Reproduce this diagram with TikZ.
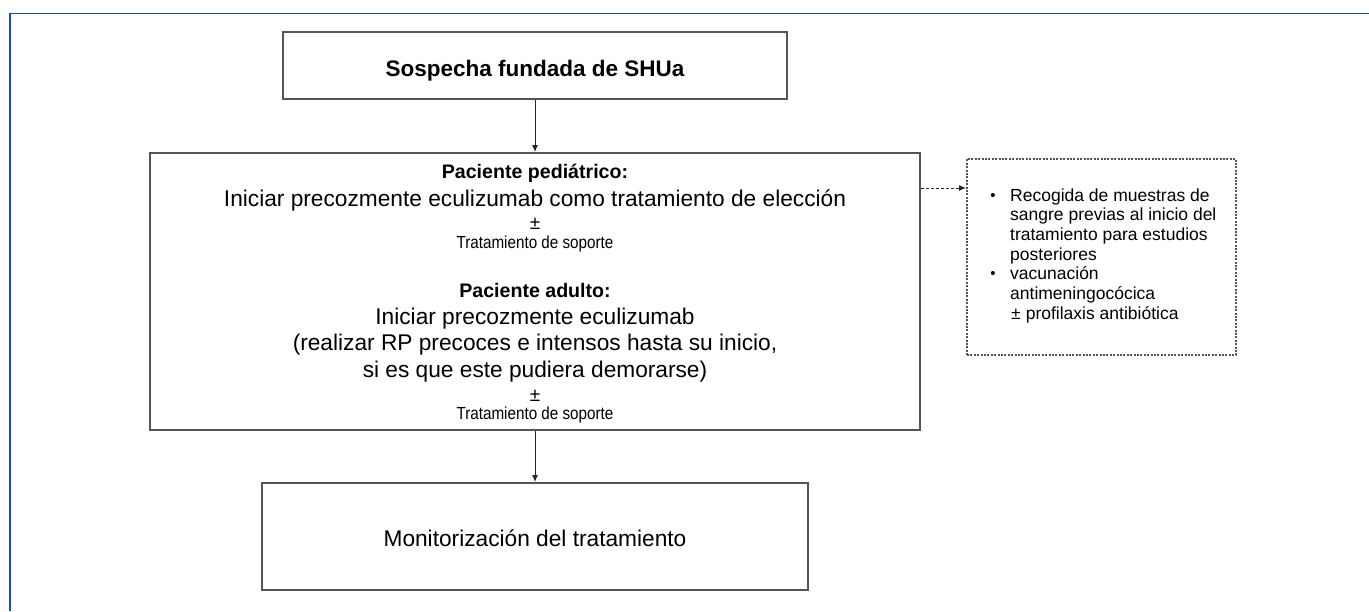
\documentclass[tikz,border=0pt]{standalone}
\usepackage{fontspec}
\setmainfont{Liberation Sans}
\usetikzlibrary{arrows.meta}
\definecolor{boxgray}{HTML}{555555}
\definecolor{framebl}{HTML}{1F4F9F}
\begin{document}
\begin{tikzpicture}[x=1pt,y=-1pt,
  box/.style={draw=boxgray, line width=2pt, inner sep=0pt, fill=white},
  dotbox/.style={draw=boxgray, line width=2pt, dash pattern=on 2pt off 1.4pt, inner sep=0pt},
  arr/.style={draw=black!85, line width=1pt, -{Latex[length=7pt,width=6pt]}},
  darr/.style={draw=black!85, line width=1pt, dash pattern=on 3pt off 2pt, -{Latex[length=7pt,width=6pt]}},
  body/.style={inner sep=0pt, anchor=base, font=\fontsize{22.7}{26}\selectfont},
  head/.style={inner sep=0pt, anchor=base, font=\fontsize{19.6}{24}\selectfont\bfseries},
  pm/.style={inner sep=0pt, anchor=base, font=\fontsize{19}{20}\selectfont},
  small/.style={inner sep=0pt, anchor=base, font=\fontsize{15}{18}\selectfont},
  side/.style={inner sep=0pt, anchor=base west, font=\fontsize{17.5}{19.7}\selectfont},
  bul/.style={inner sep=0pt, anchor=base, font=\fontsize{15}{16}\selectfont},
]
\useasboundingbox (0,0) rectangle (1369,611);
\fill[white] (0,0) rectangle (1369,611);
% frame
\draw[framebl, line width=1.6pt] (10,611) -- (10,13.5) -- (1369,13.5);

% boxes
\node[box, minimum width=504pt, minimum height=67pt] (top) at (535,65.5) {};
\node[box, minimum width=770pt, minimum height=277pt] (mid) at (535,291.5) {};
\node[box, minimum width=546pt, minimum height=107pt] (bot) at (535,536.5) {};
\node[dotbox, minimum width=269pt, minimum height=196pt] (dot) at (1101.5,257) {};

% connectors
\draw[arr] (top.south) -- (mid.north);
\draw[arr] (mid.south) -- (bot.north);
\draw[darr] ([yshift=103.5pt]mid.east) -- ([yshift=103.5pt]mid.east -| dot.west);

% top text
\node[body, font=\fontsize{22.5}{26}\selectfont\bfseries] (t1) at (535,76) {Sospecha fundada de SHUa};

% middle text
\node[head] (m1) at (535,178.7) {Paciente pediátrico:};
\node[body] (m2) at (535,206) {Iniciar precozmente eculizumab como tratamiento de elección};
\node[pm] (m3) at (535,229) {±};
\node[small] (m4) at (535,248.5) {\scalebox{0.87}[1]{\fontsize{17.5}{20}\selectfont Tratamiento de soporte}};
\node[head] (m5) at (535,297.7) {Paciente adulto:};
\node[body] (m6) at (535,324.4) {Iniciar precozmente eculizumab};
\node[body] (m7) at (535,350.7) {(realizar RP precoces e intensos hasta su inicio,};
\node[body] (m8) at (535,377.7) {si es que este pudiera demorarse)};
\node[pm] (m9) at (535,401) {±};
\node[small] (m10) at (535,419.5) {\scalebox{0.87}[1]{\fontsize{17.5}{20}\selectfont Tratamiento de soporte}};

% bottom text
\node[body] (b1) at (535,546) {Monitorización del tratamiento};

% side text
\node[bul] (s0) at (993,200) {•};
\node[side] (s1) at (1010,201) {Recogida de muestras de};
\node[side] (s2) at (1010,220.7) {sangre previas al inicio del};
\node[side] (s3) at (1010,240.4) {tratamiento para estudios};
\node[side] (s4) at (1010,260.1) {posteriores};
\node[bul] (s5) at (993,278.8) {•};
\node[side] (s6) at (1010,279.8) {vacunación};
\node[side] (s7) at (1010,299.5) {antimeningocócica};
\node[side] (s8) at (1011,319.2) {±\hspace{5pt}profilaxis antibiótica};
\end{tikzpicture}
\end{document}
